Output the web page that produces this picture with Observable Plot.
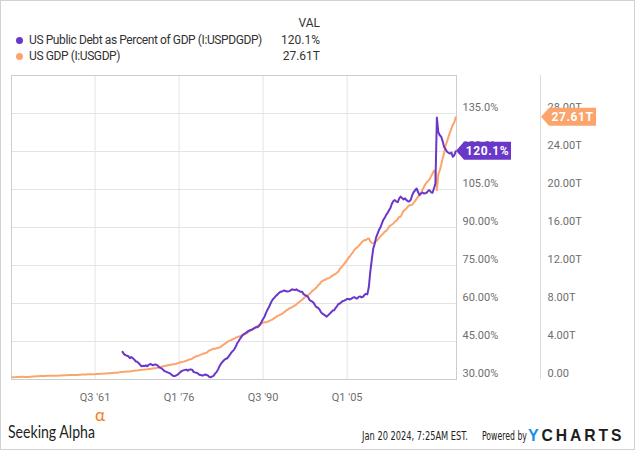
<!DOCTYPE html>
<html><head><meta charset="utf-8">
<script src="https://cdn.jsdelivr.net/npm/d3@7"></script>
<script src="https://cdn.jsdelivr.net/npm/@observablehq/plot@0.6"></script>
<style>
body{margin:0;background:#fff;font-family:Roboto,sans-serif;}
#wrap{position:relative;width:635px;height:450px;overflow:hidden;background:#fff;}
#border{position:absolute;left:0;top:0;width:635px;height:450px;box-sizing:border-box;border:1px solid #d2d2d2;pointer-events:none;}
#legend{position:absolute;left:0;top:0;width:330px;height:65px;font-size:12px;color:#333;}
.row{position:absolute;left:0;width:320px;height:16px;line-height:16px;white-space:nowrap;}
.dot{position:absolute;left:15.5px;top:4.5px;width:7px;height:7px;border-radius:50%;}
.name{position:absolute;left:29px;top:0;letter-spacing:-0.4px;}
.val{position:absolute;right:0;top:0;}
#chart{position:absolute;left:0;top:65px;}
#footer{position:absolute;left:0;top:395px;}
</style></head>
<body>
<div id="wrap">
  <div id="legend"></div>
  <div id="chart"></div>
  <svg id="footer" width="635" height="54"></svg>
  <div id="border"></div>
</div>
<script>
// ---- series names / legend ----
const seriesNames = ["US Public Debt as Percent of GDP (I:USPDGDP)", "US GDP (I:USGDP)"];
const seriesValues = ["120.1%", "27.61T"];
const seriesColors = ["#6a38c8", "#fba56d"];

// ---- x axis ticks ----
const xTickDates = ["1961-07-01", "1976-01-01", "1990-07-01", "2005-01-01"];
const xTickLabels = ["Q3 '61", "Q1 '76", "Q3 '90", "Q1 '05"];

// ---- left axis (percent) ----
const pctTicks = [30, 45, 60, 75, 90, 105, 120, 135];
const pctTickLabels = ["30.00%", "45.00%", "60.00%", "75.00%", "90.00%", "105.0%", "120.0%", "135.0%"];

// ---- right axis (GDP, trillions) ----
const gdpTicks = [0, 4, 8, 12, 16, 20, 24, 28];
const gdpTickLabels = ["0.00", "4.00T", "8.00T", "12.00T", "16.00T", "20.00T", "24.00T", "28.00T"];

// ---- Public debt % of GDP, quarterly from 1966 Q1 ----
const debtStartYear = 1966;
const debtPct = [
  40.9, 40.0, 39.6, 39.4,   // 1966
  39.2, 38.4, 38.9, 38.4,   // 1967
  37.9, 37.2, 37.0, 36.5,   // 1968
  35.9, 35.2, 35.4, 35.3,   // 1969
  35.6, 35.2, 35.8, 36.1,   // 1970
  35.9, 35.6, 35.9, 35.9,   // 1971
  35.6, 35.0, 34.6, 34.4,   // 1972
  33.8, 33.3, 33.1, 32.8,   // 1973
  32.6, 32.3, 31.8, 31.4,   // 1974
  31.4, 31.6, 31.9, 32.5,   // 1975
  33.0, 33.4, 33.6, 33.8,   // 1976
  33.9, 33.5, 33.9, 34.0,   // 1977
  33.9, 33.0, 32.8, 32.7,   // 1978
  32.4, 31.9, 31.8, 31.6,   // 1979
  31.7, 32.0, 31.8, 31.5,   // 1980
  31.0, 30.9, 31.2, 31.6,   // 1981
  32.4, 33.0, 34.1, 35.3,   // 1982
  36.3, 37.0, 37.6, 38.1,   // 1983
  38.3, 38.9, 39.7, 40.6,   // 1984
  41.2, 41.8, 42.8, 44.2,   // 1985
  45.0, 46.0, 46.8, 47.6,   // 1986
  48.0, 48.3, 48.8, 49.2,   // 1987
  49.5, 49.6, 50.0, 50.3,   // 1988
  50.6, 50.6, 51.0, 51.8,   // 1989
  52.8, 53.9, 54.8, 56.3,   // 1990
  57.5, 58.5, 59.8, 61.0,   // 1991
  61.8, 62.4, 63.1, 63.6,   // 1992
  64.2, 64.6, 64.7, 65.0,   // 1993
  65.1, 64.8, 64.7, 64.9,   // 1994
  65.2, 65.6, 65.4, 65.3,   // 1995
  65.6, 65.2, 64.9, 64.6,   // 1996
  64.6, 63.7, 63.3, 63.0,   // 1997
  62.6, 61.5, 61.0, 60.7,   // 1998
  60.2, 59.2, 58.5, 58.3,   // 1999
  57.6, 56.5, 56.0, 55.6,   // 2000
  55.2, 54.8, 55.4, 56.0,   // 2001
  56.5, 57.2, 57.3, 58.2,   // 2002
  58.9, 59.8, 60.0, 60.5,   // 2003
  61.0, 61.1, 61.4, 61.8,   // 2004
  61.8, 61.6, 61.9, 62.3,   // 2005
  62.5, 62.1, 62.0, 62.6,   // 2006
  62.8, 62.4, 62.6, 63.4,   // 2007
  63.8, 63.6, 66.5, 72.5,   // 2008
  77.0, 81.5, 83.5, 86.0,   // 2009
  87.5, 89.0, 90.0, 91.5,   // 2010
  93.0, 93.8, 95.0, 95.8,   // 2011
  96.8, 97.8, 99.5, 100.5,  // 2012
  100.8, 100.2, 100.0, 101.5, // 2013
  102.2, 101.6, 101.1, 101.5, // 2014
  100.8, 100.4, 100.3, 101.0, // 2015
  102.8, 104.0, 104.7, 105.4, // 2016
  104.0, 102.8, 103.4, 103.8, // 2017
  103.4, 103.5, 103.8, 104.5, // 2018
  104.7, 103.9, 103.7, 105.5, // 2019
  107.4, 133.4, 127.6, 126.4, // 2020
  125.8, 124.0, 121.8, 120.9, // 2021
  119.9, 119.5, 119.2, 119.6, // 2022
  117.9, 118.5, 120.1         // 2023
];

// ---- US GDP, billions USD, quarterly from 1947 Q1 ----
const gdpStartYear = 1947;
const gdpBillions = [
  243, 246, 250, 260,   264, 273, 279, 280,   275, 271, 274, 271,   // 1947-49
  281, 291, 308, 320,   336, 344, 352, 356,   360, 361, 368, 381,   // 1950-52
  389, 392, 391, 386,   386, 386, 391, 400,   413, 422, 430, 438,   // 1953-55
  441, 449, 454, 463,   472, 476, 483, 479,   474, 477, 492, 506,   // 1956-58
  516, 530, 529, 536,   549, 549, 553, 545,   549, 561, 573, 587,   // 1959-61
  600, 610, 618, 621,   631, 639, 654, 662,   679, 688, 701, 707,   // 1962-64
  723, 737, 756, 781,   801, 811, 824, 839,   847, 855, 871, 886,   // 1965-67
  915, 941, 957, 973,   999, 1015, 1038, 1046,  1062, 1076, 1096, 1097, // 1968-70
  1145, 1169, 1189, 1204,  1241, 1282, 1307, 1349,  1396, 1429, 1448, 1493, // 1971-73
  1509, 1543, 1572, 1608,  1626, 1661, 1723, 1766,  1819, 1849, 1880, 1920, // 1974-76
  1973, 2033, 2104, 2140,  2180, 2313, 2372, 2445,  2498, 2541, 2613, 2674, // 1977-79
  2744, 2754, 2823, 2948,  3088, 3115, 3209, 3225,  3244, 3297, 3332, 3371, // 1980-82
  3461, 3586, 3691, 3799,  3922, 4015, 4087, 4149,  4238, 4302, 4395, 4453, // 1983-85
  4516, 4555, 4620, 4669,  4736, 4822, 4901, 5023,  5091, 5208, 5300, 5413, // 1986-88
  5527, 5628, 5712, 5763,  5891, 5975, 6030, 6023,  6055, 6144, 6218, 6279, // 1989-91
  6381, 6492, 6587, 6698,  6748, 6830, 6904, 7033,  7136, 7270, 7352, 7477, // 1992-94
  7545, 7605, 7707, 7800,  7893, 8062, 8159, 8287,  8402, 8552, 8692, 8788, // 1995-97
  8890, 8995, 9147, 9326,  9447, 9557, 9712, 9926,  10031, 10278, 10357, 10472, // 1998-2000
  10508, 10638, 10640, 10701,  10834, 10935, 11037, 11104,  11230, 11371, 11625, 11817, // 2001-03
  11988, 12181, 12368, 12562,  12814, 12974, 13205, 13382,  13649, 13800, 13909, 14066, // 2004-06
  14233, 14422, 14570, 14685,  14668, 14813, 14843, 14550,  14384, 14340, 14384, 14567, // 2007-09
  14681, 14889, 15058, 15230,  15351, 15558, 15647, 15842,  16069, 16207, 16319, 16420, // 2010-12
  16629, 16700, 16912, 17133,  17144, 17462, 17744, 17853,  18018, 18208, 18343, 18353, // 2013-15
  18410, 18583, 18799, 19032,  19238, 19398, 19595, 19939,  20242, 20552, 20742, 20910, // 2016-18
  21100, 21380, 21690, 21990,  21710, 19940, 21630, 22010,  22600, 23290, 23830, 24650, // 2019-21
  25030, 25540, 25990, 26410,  26810, 27060, 27610                                   // 2022-23
];

// Both right-hand scales share one band: 0T sits at 30%, 28T at 135%.
const gdpToPct = t => 30 + t * (135 - 30) / 28;

const quarterEnd = (startYear, i) => new Date(Date.UTC(startYear + Math.floor(i / 4), (i % 4) * 3 + 3, 0));
const debtRows = debtPct.map((v, i) => ({date: quarterEnd(debtStartYear, i), v}));
const gdpRows = gdpBillions.map((b, i) => ({date: quarterEnd(gdpStartYear, i), v: gdpToPct(b / 1000)}));

const xTicks = xTickDates.map(s => new Date(s + "T00:00:00Z"));
const xLabelMap = new Map(xTicks.map((d, i) => [+d, xTickLabels[i]]));
const pctLabelMap = new Map(pctTicks.map((d, i) => [d, pctTickLabels[i]]));
const gdpTickPos = gdpTicks.map(gdpToPct);
const gdpLabelMap = new Map(gdpTickPos.map((d, i) => [d, gdpTickLabels[i]]));

// ---- legend ----
const legend = d3.select("#legend");
legend.append("div").attr("class", "row").style("top", "15px").append("span").attr("class", "val").text("VAL");
seriesNames.forEach((n, i) => {
  const r = legend.append("div").attr("class", "row").style("top", (32 + i * 16) + "px");
  r.append("span").attr("class", "dot").style("background", seriesColors[i]);
  r.append("span").attr("class", "name").text(n);
  r.append("span").attr("class", "val").text(seriesValues[i]);
});

// ---- chart ----
const axisColor = "#6e6e6e";
const plot = Plot.plot({
  width: 635, height: 345,
  marginTop: 10, marginBottom: 31, marginLeft: 11, marginRight: 179,
  style: {fontFamily: "Roboto, sans-serif", fontSize: "11px", background: "transparent", color: axisColor},
  x: {type: "utc", domain: [new Date(Date.UTC(1947, 0, 26)), new Date(Date.UTC(2023, 10, 19))], label: null},
  y: {domain: [30, 150], label: null},
  marks: [
    Plot.gridY(pctTicks.slice(1), {stroke: "#e4e4e4", strokeOpacity: 1}),
    Plot.gridX(xTicks, {stroke: "#e4e4e4", strokeOpacity: 1}),
    Plot.frame({stroke: "#cdcdcd"}),
    Plot.axisX(xTicks, {tickSize: 0, tickPadding: 14, tickFormat: d => xLabelMap.get(+d), fill: axisColor}),
    Plot.axisY(pctTicks, {anchor: "right", tickSize: 0, tickPadding: 6, dy: -6.5, textAnchor: "start", tickFormat: d => pctLabelMap.get(d), fill: axisColor}),
    Plot.axisY(gdpTickPos, {anchor: "right", tickSize: 0, tickPadding: 6, dx: 85, dy: -6.5, textAnchor: "start", tickFormat: d => gdpLabelMap.get(d), fill: axisColor}),
    Plot.line(gdpRows, {x: "date", y: "v", stroke: seriesColors[1], strokeWidth: 2}),
    Plot.line(debtRows, {x: "date", y: "v", stroke: seriesColors[0], strokeWidth: 2})
  ]
});
document.getElementById("chart").appendChild(plot);

const svg = d3.select(plot);
const yS = plot.scale("y");
const yTopPx = yS.apply(150), yBottomPx = yS.apply(30);
// divider between the two value columns
svg.append("line").attr("x1", 540.5).attr("x2", 540.5).attr("y1", yTopPx).attr("y2", yBottomPx)
  .attr("stroke", "#dcdcdc");

// value badges at the last points
function badge(tipX, w, yv, color, label) {
  const y = yS.apply(yv), h = 18, a = 8;
  const g = svg.append("g");
  g.append("path")
    .attr("d", `M${tipX},${y} L${tipX + a},${y - h / 2} L${tipX + a + w},${y - h / 2} L${tipX + a + w},${y + h / 2} L${tipX + a},${y + h / 2} Z`)
    .attr("fill", color);
  g.append("text").attr("x", tipX + a + w / 2).attr("y", y).attr("dy", "0.35em")
    .attr("text-anchor", "middle").attr("fill", "#fff")
    .attr("font-family", "Roboto, sans-serif").attr("font-weight", "700")
    .attr("font-size", "12px").attr("letter-spacing", "0.6px").text(label);
}
badge(456, 47, debtPct[debtPct.length - 1], seriesColors[0], seriesValues[0]);
badge(541, 47, gdpRows[gdpRows.length - 1].v, seriesColors[1], seriesValues[1]);

// ---- footer (y is relative to the footer's top at 395px) ----
const f = d3.select("#footer");
// place a text so its natural width is squeezed to `w` px with a horizontal scale
function fitText(str, x, y, w, attrs) {
  const g = f.append("g");
  const t = g.append("text").text(str);
  Object.entries(attrs).forEach(([k, v]) => t.attr(k, v));
  const nat = t.node().getComputedTextLength();
  g.attr("transform", `translate(${x},${y}) scale(${w / nat},1)`);
  return t;
}
fitText("Seeking Alpha", 8, 43, 87, {"font-family": "Lato, 'Open Sans', sans-serif", "font-size": "17.5px", "fill": "#231f20"});
f.append("text").attr("x", 95).attr("y", 26).attr("font-family", "Lato, sans-serif")
  .attr("font-size", "17px").attr("fill", "#f47c20").text("α");
const narrow = {"font-family": "'Liberation Sans Narrow', 'DejaVu Sans Condensed', sans-serif", "font-size": "12.5px", "fill": "#222"};
fitText("Jan 20 2024, 7:25AM EST.", 362, 44.5, 106, narrow);
fitText("Powered by", 482, 44.5, 45, narrow);
f.append("text").attr("x", 528).attr("y", 46).attr("font-family", "'Liberation Sans', Arial, sans-serif")
  .attr("font-size", "16px").attr("font-weight", "700").attr("fill", "#1a8fe3").text("Y");
fitText("CHARTS", 541.5, 46, 83, {"font-family": "'Liberation Sans', Arial, sans-serif", "font-size": "16px", "font-weight": "700", "fill": "#1d1d1d", "letter-spacing": "3px"});
</script>
</body></html>
